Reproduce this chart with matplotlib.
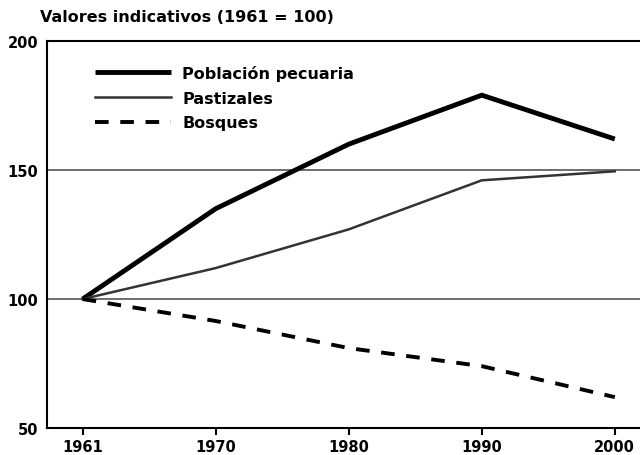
import matplotlib
matplotlib.use('Agg')
import matplotlib.pyplot as plt

# datos (1961 = 100)
years = ['1961', '1970', '1980', '1990', '2000']
poblacion = [100, 135, 160, 179, 162]
pastizales = [100, 112, 127, 146, 149.5]
bosques = [100, 91.5, 81, 74, 62]

x = list(range(len(years)))

plt.rcParams['font.family'] = ['DejaVu Sans']
plt.rcParams['font.weight'] = 'bold'

fig = plt.figure(figsize=(6.4, 4.56), dpi=100)
ax = fig.add_axes([0.073, 0.059, 0.95, 0.849])

ax.axhline(100, color='#555555', lw=1.2, zorder=1)
ax.axhline(150, color='#555555', lw=1.2, zorder=1)

ax.plot(x, poblacion, color='black', lw=3.5, label='Población pecuaria', solid_capstyle='butt')
ax.plot(x, pastizales, color='#333333', lw=1.8, label='Pastizales')
ax.plot(x, bosques, color='black', lw=2.8, ls=(0, (3.5, 3)), label='Bosques')

ax.set_xlim(-0.27, 4.3)
ax.set_ylim(50, 200)
ax.set_yticks([50, 100, 150, 200])
ax.set_xticks(x)
ax.set_xticklabels(years)
ax.tick_params(axis='y', length=0, labelsize=10.5, pad=6)
ax.tick_params(axis='x', length=5, width=1.5, labelsize=10.5, pad=3)
for lab in ax.get_xticklabels() + ax.get_yticklabels():
    lab.set_fontweight('bold')

for s in ['left', 'bottom', 'top']:
    ax.spines[s].set_linewidth(1.5)
ax.spines['right'].set_visible(False)

leg = ax.legend(loc='upper left', bbox_to_anchor=(0.055, 0.975), frameon=False,
                fontsize=11.5, handlelength=4.8, handletextpad=0.7, labelspacing=0.6)
for t in leg.get_texts():
    t.set_fontweight('bold')

fig.text(0.063, 0.945, 'Valores indicativos (1961 = 100)', fontsize=11.5, fontweight='bold',
         ha='left', va='bottom')

fig.savefig('out.png', dpi=100)
